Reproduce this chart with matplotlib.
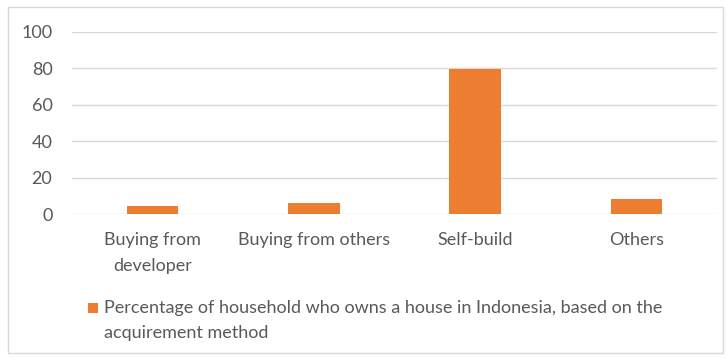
import matplotlib.pyplot as plt
from matplotlib.patches import Rectangle

categories = ["Buying from\ndeveloper", "Buying from others", "Self-build", "Others"]
values = [4.4, 6.1, 79.5, 8.6]
yticks = [0, 20, 40, 60, 80, 100]
series_label = ("Percentage of household who owns a house in Indonesia, based on the\n"
                "acquirement method")

plt.rcParams['font.family'] = ['Lato', 'DejaVu Sans']
text_col = '#595959'
bar_col = '#ed7d31'
fs = 13

fig = plt.figure(figsize=(7.26, 3.58), dpi=100)
ax = fig.add_axes([0.099, 0.401, 0.889, 0.5105])

x = range(len(categories))
bars = ax.bar(x, values, width=0.32, color=bar_col, zorder=3)

ax.set_xlim(-0.5, len(categories) - 0.5)
ax.set_ylim(0, 100)
ax.set_yticks(yticks)
ax.set_xticks(list(x))
ax.set_xticklabels(categories, linespacing=1.7)
ax.tick_params(axis='both', length=0, labelsize=fs, colors=text_col)
ax.tick_params(axis='y', pad=14)
ax.tick_params(axis='x', pad=13)
ax.grid(axis='y', color='#d9d9d9', linewidth=1, zorder=0)
for s in ax.spines.values():
    s.set_visible(False)

# legend: square key aligned with the first line of the wrapped label
fig.patches.append(Rectangle((0.1212, 0.1257), 0.0138, 0.0279, transform=fig.transFigure,
                             facecolor=bar_col, edgecolor='none'))
fig.text(0.1433, 0.162, series_label, va='top', ha='left', fontsize=fs,
         color=text_col, linespacing=1.7)

fig.patches.append(Rectangle((0.011, 0.014), 0.985, 0.966, transform=fig.transFigure,
                             fill=False, edgecolor='#d9d9d9', linewidth=1))

fig.savefig('out.png', dpi=100)
